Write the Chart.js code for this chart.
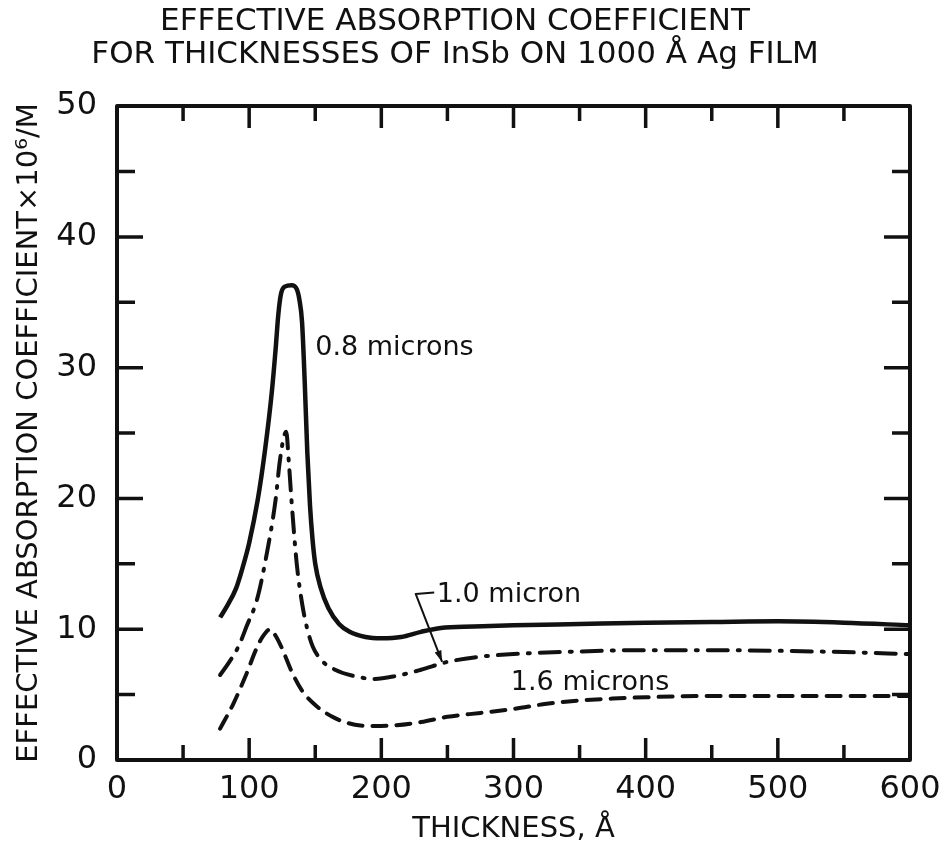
<!DOCTYPE html>
<html>
<head>
<meta charset="utf-8">
<script src="https://cdn.jsdelivr.net/npm/chart.js@4.4.1/dist/chart.umd.min.js"></script>
<style>
    html, body { margin: 0; padding: 0; background: #fff; }
    #wrap { width: 945px; height: 851px; }
</style>
</head>
<body>
<div id="wrap"><canvas id="absChart"></canvas></div>
<script>
// Data (thickness in Angstrom, coefficient x 10^6 /m)
const thick08 = [78, 84, 90, 95, 100, 106.5, 112, 117, 120, 122, 124, 127, 132, 136, 138, 140, 142, 144, 146, 148, 150, 154, 160, 168, 176, 188, 200, 215, 230, 245, 270, 300, 350, 400, 450, 500, 550, 600];
const coef08  = [10.9, 11.9, 13.1, 14.7, 16.6, 19.9, 23.7, 28, 31.4, 34, 35.6, 36.2, 36.3, 36, 35.2, 33.5, 29, 23.5, 19.5, 16.8, 15.0, 13.2, 11.6, 10.4, 9.8, 9.4, 9.3, 9.4, 9.8, 10.1, 10.2, 10.3, 10.4, 10.5, 10.55, 10.6, 10.5, 10.3];

const thick10 = [78, 85, 92, 98, 106, 113, 120, 123, 126, 128, 130, 132, 136, 140, 144, 148, 155, 165, 180, 195, 210, 230, 250, 275, 300, 350, 400, 450, 500, 550, 600];
const coef10  = [6.5, 7.5, 8.7, 10.2, 12.3, 15.6, 19.9, 22.7, 24.6, 25.1, 22.8, 19.9, 15.0, 12.0, 10.0, 8.7, 7.6, 6.9, 6.4, 6.2, 6.4, 6.9, 7.5, 7.9, 8.1, 8.3, 8.4, 8.4, 8.35, 8.25, 8.1];

const thick16 = [78, 88, 98, 105, 110, 116, 120, 125, 132, 140, 150, 165, 180, 195, 210, 230, 250, 275, 300, 325, 350, 375, 400, 450, 500, 600];
const coef16  = [2.4, 4.3, 6.6, 8.4, 9.4, 10.0, 9.5, 8.5, 6.8, 5.3, 4.2, 3.2, 2.7, 2.6, 2.65, 2.9, 3.3, 3.6, 3.9, 4.3, 4.55, 4.7, 4.8, 4.9, 4.9, 4.9];

const xTicks = [0, 100, 200, 300, 400, 500, 600];
const yTicks = [0, 10, 20, 30, 40, 50];

// Curve labels: [text, x, y]
const curveLabels = [
    ['0.8 microns', 150, 31.5],
    ['1.0 micron', 242, 12.6],
    ['1.6 microns', 298, 5.9]
];
// leader from "1.0 micron" to its curve
const leaderX = [240, 226, 246];
const leaderY = [12.8, 12.7, 7.5];

const INK = '#111';
const FONT = '"DejaVu Sans", sans-serif';

function pts(xs, ys) {
    return xs.map((x, i) => ({ x: x, y: ys[i] }));
}

// Frame, inward ticks and curve labels
const decorations = {
    id: 'decorations',
    afterDatasetsDraw(chart) {
        const { ctx, chartArea: a, scales: { x, y } } = chart;
        ctx.save();
        ctx.strokeStyle = INK;
        ctx.lineCap = 'butt';

        // inward ticks on all four sides
        ctx.lineWidth = 3.5;
        for (let v = 50; v < 600; v += 50) {
            const px = x.getPixelForValue(v);
            const len = v % 100 === 0 ? 22 : 15;
            ctx.beginPath();
            ctx.moveTo(px, a.bottom); ctx.lineTo(px, a.bottom - len);
            ctx.moveTo(px, a.top); ctx.lineTo(px, a.top + len);
            ctx.stroke();
        }
        for (let v = 5; v < 50; v += 5) {
            const py = y.getPixelForValue(v);
            const len = v % 10 === 0 ? 26 : 18;
            ctx.beginPath();
            ctx.moveTo(a.left, py); ctx.lineTo(a.left + len, py);
            ctx.moveTo(a.right, py); ctx.lineTo(a.right - len, py);
            ctx.stroke();
        }

        // frame
        ctx.lineWidth = 4;
        ctx.lineJoin = 'round';
        ctx.strokeRect(a.left, a.top, a.right - a.left, a.bottom - a.top);

        // curve labels
        ctx.fillStyle = INK;
        ctx.font = '27px ' + FONT;
        ctx.textBaseline = 'middle';
        ctx.textAlign = 'left';
        curveLabels.forEach(([t, vx, vy]) => {
            ctx.fillText(t, x.getPixelForValue(vx), y.getPixelForValue(vy));
        });

        // leader with arrow
        ctx.lineWidth = 2;
        ctx.beginPath();
        leaderX.forEach((vx, i) => {
            const px = x.getPixelForValue(vx), py = y.getPixelForValue(leaderY[i]);
            if (i === 0) ctx.moveTo(px, py); else ctx.lineTo(px, py);
        });
        ctx.stroke();
        const n = leaderX.length;
        const ex = x.getPixelForValue(leaderX[n - 1]), ey = y.getPixelForValue(leaderY[n - 1]);
        const sx = x.getPixelForValue(leaderX[n - 2]), sy = y.getPixelForValue(leaderY[n - 2]);
        const ang = Math.atan2(ey - sy, ex - sx);
        ctx.beginPath();
        ctx.moveTo(ex, ey);
        ctx.lineTo(ex - 12 * Math.cos(ang - 0.3), ey - 12 * Math.sin(ang - 0.3));
        ctx.lineTo(ex - 12 * Math.cos(ang + 0.3), ey - 12 * Math.sin(ang + 0.3));
        ctx.closePath();
        ctx.fill();
        ctx.restore();
    }
};

const lineBase = {
    borderColor: INK,
    pointRadius: 0,
    fill: false,
    showLine: true,
    cubicInterpolationMode: 'monotone'
};

new Chart(document.getElementById('absChart').getContext('2d'), {
    type: 'scatter',
    data: {
        datasets: [
            Object.assign({ label: '0.8 microns', data: pts(thick08, coef08), borderWidth: 4.5 }, lineBase),
            Object.assign({ label: '1.0 micron', data: pts(thick10, coef10), borderWidth: 4,
                borderDash: [20, 10, 2, 10], borderCapStyle: 'round' }, lineBase),
            Object.assign({ label: '1.6 microns', data: pts(thick16, coef16), borderWidth: 4,
                borderDash: [14, 10], borderCapStyle: 'round' }, lineBase)
        ]
    },
    options: {
        responsive: true,
        maintainAspectRatio: false,
        animation: false,
        devicePixelRatio: 1,
        layout: { padding: { top: 0, right: 35, bottom: 0, left: 0 } },
        plugins: {
            legend: { display: false },
            tooltip: { enabled: false },
            title: {
                display: true,
                text: 'EFFECTIVE ABSORPTION COEFFICIENT',
                color: INK,
                font: { family: FONT, size: 31, weight: 'normal', lineHeight: 1.05 },
                padding: { top: 6, bottom: 0 }
            },
            subtitle: {
                display: true,
                text: 'FOR THICKNESSES OF InSb ON 1000 Å Ag FILM',
                color: INK,
                font: { family: FONT, size: 31, weight: 'normal', lineHeight: 1.05 },
                padding: { top: 0, bottom: 35 }
            }
        },
        scales: {
            x: {
                type: 'linear',
                min: 0,
                max: 600,
                afterBuildTicks: (s) => { s.ticks = xTicks.map(v => ({ value: v })); },
                afterFit: (s) => { s.height = 91; },
                ticks: { color: INK, font: { family: FONT, size: 32 }, padding: 2, maxRotation: 0 },
                grid: { display: false },
                border: { display: false },
                title: {
                    display: true,
                    text: 'THICKNESS, Å',
                    color: INK,
                    font: { family: FONT, size: 29 },
                    padding: { top: 0, bottom: 4 }
                }
            },
            y: {
                min: 0,
                max: 50,
                afterBuildTicks: (s) => { s.ticks = yTicks.map(v => ({ value: v })); },
                afterFit: (s) => { s.width = 117; },
                ticks: { color: INK, font: { family: FONT, size: 32 }, padding: 12 },
                grid: { display: false },
                border: { display: false },
                title: {
                    display: true,
                    text: 'EFFECTIVE ABSORPTION COEFFICIENT×10⁶/M',
                    color: INK,
                    font: { family: FONT, size: 29 },
                    padding: { top: 12, bottom: 0 }
                }
            }
        }
    },
    plugins: [decorations]
});
</script>
</body>
</html>
